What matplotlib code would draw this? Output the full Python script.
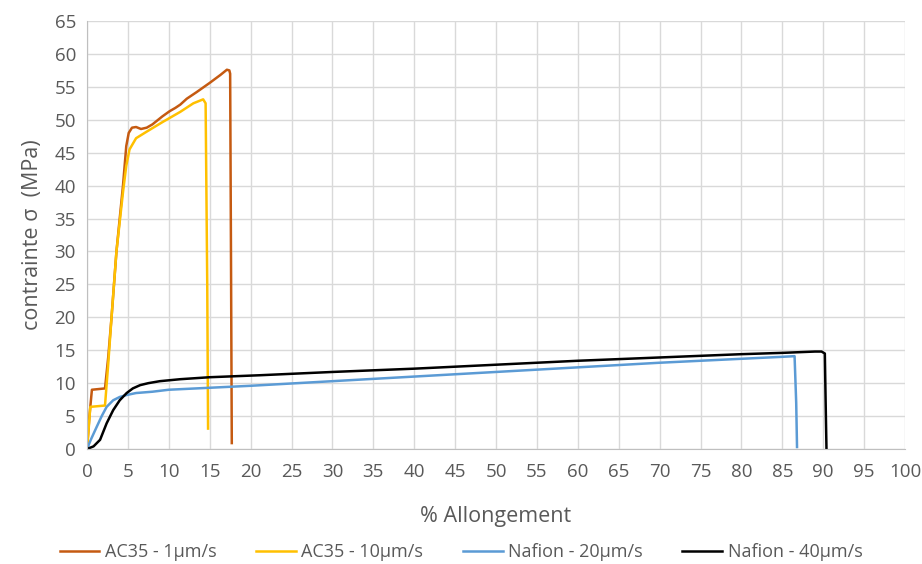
import matplotlib
matplotlib.use("Agg")
import matplotlib.pyplot as plt

# AC35 - 1um/s
ac35_1_x = [0, 0.3, 0.6, 2.2, 2.6, 3.0, 3.6, 4.4, 4.8, 5.1, 5.5, 6.0, 6.6, 7.3, 8.0,
            8.5, 9.2, 10.1, 10.8, 11.4, 12.2, 13.4, 15.0, 16.3, 17.1, 17.4, 17.5, 17.6, 17.7]
ac35_1_y = [0, 5, 9.0, 9.2, 14, 20, 30, 40, 46.0, 48.0, 48.8, 48.9, 48.6, 48.8, 49.3,
            49.8, 50.5, 51.3, 51.8, 52.3, 53.2, 54.2, 55.6, 56.8, 57.6, 57.5, 57.0, 30, 0.9]

# AC35 - 10um/s
ac35_10_x = [0, 0.2, 0.4, 2.2, 2.6, 3.0, 3.6, 4.4, 4.8, 5.2, 6.0, 7.3, 9.3, 11.4, 13.0,
             14.2, 14.5, 14.7, 14.8]
ac35_10_y = [0, 3, 6.4, 6.6, 13, 20, 30, 39, 43, 45.5, 47.2, 48.2, 49.7, 51.2, 52.5,
             53.1, 52.5, 25, 3.1]

# Nafion - 20um/s
naf_20_x = [0, 0.5, 1.2, 1.8, 2.4, 3.2, 4.0, 4.85, 6, 8, 10, 15, 20, 30, 40, 50, 60,
            70, 80, 85, 86.5, 86.7, 86.8]
naf_20_y = [0, 1.5, 3.4, 5.0, 6.4, 7.4, 7.9, 8.2, 8.5, 8.7, 9.0, 9.3, 9.6, 10.3, 11.0,
            11.7, 12.4, 13.1, 13.7, 14.0, 14.1, 7, 0.3]

# Nafion - 40um/s
naf_40_x = [0, 0.8, 1.6, 2.4, 3.2, 4.0, 4.85, 5.6, 6.5, 7.5, 8.9, 11.4, 15, 21.1, 30,
            40, 50, 60, 70, 80, 85, 89, 89.8, 90.2, 90.3, 90.4]
naf_40_y = [0, 0.4, 1.4, 3.9, 5.9, 7.4, 8.5, 9.2, 9.7, 10.0, 10.3, 10.6, 10.9, 11.2,
            11.7, 12.2, 12.8, 13.4, 13.9, 14.4, 14.6, 14.8, 14.8, 14.5, 7, 0]

labels = ["AC35 - 1µm/s", "AC35 - 10µm/s", "Nafion - 20µm/s", "Nafion - 40µm/s"]
colors = ["#C55A11", "#FFC000", "#5B9BD5", "#000000"]

plt.rcParams['font.family'] = ['Open Sans', 'DejaVu Sans']

fig = plt.figure(figsize=(9.22, 5.64), dpi=100)
ax = fig.add_axes([87 / 922, 1 - 449 / 564, 818 / 922, 428 / 564])

series = [(ac35_1_x, ac35_1_y), (ac35_10_x, ac35_10_y),
          (naf_20_x, naf_20_y), (naf_40_x, naf_40_y)]
for (xs, ys), lab, col in zip(series, labels, colors):
    ax.plot(xs, ys, color=col, lw=1.8, label=lab)

ax.set_xlim(0, 100)
ax.set_ylim(0, 65)
ax.set_xticks(range(0, 101, 5))
ax.set_yticks(range(0, 66, 5))
ax.grid(True, color="#d9d9d9", lw=1)
ax.set_axisbelow(True)
for s in ["top", "right"]:
    ax.spines[s].set_visible(False)
for s in ["left", "bottom"]:
    ax.spines[s].set_color("#bfbfbf")
ax.tick_params(length=0, labelsize=13.5, colors="#595959")
ax.tick_params(axis="x", pad=10)
ax.tick_params(axis="y", pad=8)

ax.set_xlabel("% Allongement", fontsize=15.5, color="#595959", labelpad=18)
ax.set_ylabel("contrainte σ  (MPa)", fontsize=15.5, color="#595959", labelpad=8)

fig.legend(loc="center", bbox_to_anchor=(0.5, 1 - 552 / 564), ncol=4, frameon=False,
           fontsize=13, handlelength=2.2, columnspacing=2.2, handletextpad=0.3,
           labelcolor="#595959")

fig.savefig("out.png", dpi=100)
